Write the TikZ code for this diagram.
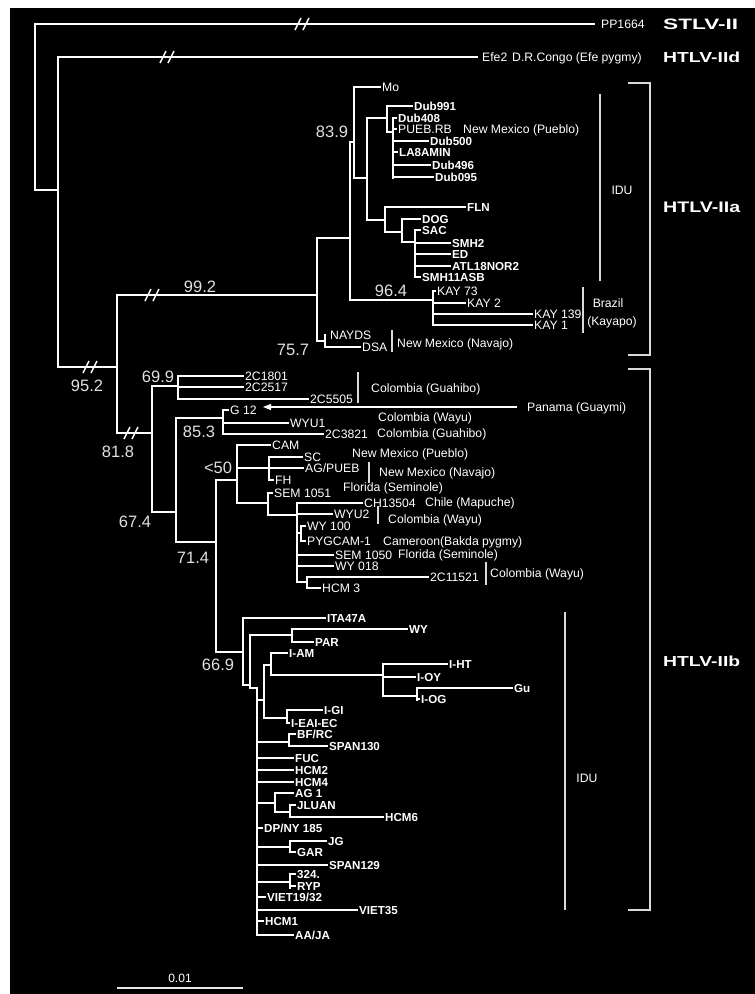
\documentclass[tikz,border=0pt]{standalone}
\usepackage{fontspec}
\setmainfont{Liberation Sans}
\usetikzlibrary{arrows.meta}
\tikzset{
 br/.style={draw=white,line width=1.6pt,line cap=rect},
 thinln/.style={draw=white!85!black,line width=1.2pt},
 lab/.style={text=white,inner sep=0pt,anchor=west,text height=8.5pt,text depth=0pt},
 rg/.style={lab,font=\fontsize{12.2}{13}\selectfont},
 bl/.style={lab,font=\fontsize{11.6}{13}\selectfont\bfseries},
 num/.style={text=white!88!black,inner sep=0pt,font=\fontsize{16.5}{17}\selectfont},
 clade/.style={text=white,inner sep=0pt,anchor=west,font=\bfseries},
}
\newcommand\tleaf[6][bl]{\draw[br] (#3,#5) -- (#4,#5); \node[#1] (#2) at ([xshift=2pt]#4,#5) {#6};}
\newcommand\brkmark[2]{\draw[white,line width=1.4pt] (#1-7,#2+6) -- (#1-1,#2-6) (#1+1,#2+6) -- (#1+7,#2-6);}
\begin{document}
\begin{tikzpicture}[x=1pt,y=-1pt]
\useasboundingbox (0,0) rectangle (755,994);
\fill[white] (0,0) rectangle (755,994);
\fill[black] (10,8) rectangle (755,994);

% ---------- top outgroups ----------
\draw[br] (594,24) -- (35,24) -- (35,190) -- (58,190);
\draw[br] (477,57) -- (58,57) -- (58,367) -- (117,367);
\brkmark{302}{24}
\brkmark{167}{57}
\node[rg] (pp) at (601,24) {PP1664};
\node[clade] (stlv) at (663,24) {\resizebox{75pt}{10.5pt}{STLV-II}};
\node[rg] (efe) at (482,57) {Efe2};
\node[rg] (drc) at (512,57) {D.R.Congo (Efe pygmy)};
\node[clade] (iid) at (663,57) {\resizebox{77pt}{10.5pt}{HTLV-IId}};

% ---------- deep nodes ----------
\draw[br] (117,295) -- (117,433);
\draw[br] (117,295) -- (317,295);
\draw[br] (117,433) -- (152,433);
\brkmark{90}{367}
\brkmark{152}{295}
\brkmark{131}{433}
\node[num] (b952) at (87,386) {95.2};
\node[num] (b992) at (200,287) {99.2};
\node[num] (b818) at (118,452) {81.8};

% ---------- HTLV-IIa ----------
\draw[br] (317,238) -- (317,341) -- (325,341);
\draw[br] (317,238) -- (350,238);
\draw[br] (325,335) -- (325,347);
\node[rg] (nay) at (330,335) {NAYDS};
\tleaf[rg]{dsa}{325}{360}{347}{DSA};
\draw[thinln] (392,330) -- (392,352);
\node[rg] (nmnav1) at (397,343) {New Mexico (Navajo)};
\node[num] (b757) at (293,350) {75.7};

\draw[br] (350,142) -- (350,300) -- (433,300);
\draw[br] (350,142) -- (354,142);
\node[num] (b839) at (332,132) {83.9};
\draw[br] (354,87) -- (354,178) -- (367,178);
\tleaf[rg]{mo}{354}{380}{87}{Mo};
\draw[br] (367,118) -- (367,220) -- (385,220);
\draw[br] (367,118) -- (387,118);
\draw[br] (387,106) -- (387,132) -- (393,132);
\tleaf{dub991}{387}{412}{106}{Dub991};
\draw[br] (393,118) -- (393,178);
\tleaf{dub408}{393}{396}{118}{Dub408};
\tleaf[rg]{pueb}{393}{396}{129}{PUEB.RB};
\node[rg] (nmpue1) at (463,129) {New Mexico (Pueblo)};
\tleaf{dub500}{393}{428}{141}{Dub500};
\tleaf{la8}{393}{397}{152}{LA8AMIN};
\tleaf{dub496}{393}{430}{165}{Dub496};
\tleaf{dub095}{393}{433}{177}{Dub095};

\draw[br] (385,207) -- (385,232) -- (402,232);
\tleaf{fln}{385}{465}{207}{FLN};
\draw[br] (402,219) -- (402,242) -- (415,242);
\tleaf{dog}{402}{420}{219}{DOG};
\draw[br] (415,230) -- (415,277);
\tleaf{sac}{415}{420}{230}{SAC};
\tleaf{smh2}{415}{450}{243}{SMH2};
\tleaf{ed}{415}{450}{254}{ED};
\tleaf{atl}{415}{450}{266}{ATL18NOR2};
\tleaf{smh11}{415}{420}{277}{SMH11ASB};

\node[num] (b964) at (391,291) {96.4};
\draw[br] (433,291) -- (433,325);
\tleaf[rg]{kay73}{433}{435}{291}{KAY 73};
\tleaf[rg]{kay2}{433}{465}{303}{KAY 2};
\tleaf[rg]{kay139}{433}{532}{314}{KAY 139};
\tleaf[rg]{kay1}{433}{532}{325}{KAY 1};

\draw[thinln] (628,83) -- (650,83) -- (650,355) -- (628,355);
\draw[thinln] (600,94) -- (600,281);
\node[rg,anchor=center] (idu1) at (622,190) {IDU};
\draw[thinln] (583,287) -- (583,333);
\node[rg,anchor=center] (braz) at (608,303) {Brazil};
\node[rg,anchor=center] (kayap) at (612,321) {(Kayapo)};
\node[clade] (iia) at (663,207) {\resizebox{77pt}{10.5pt}{HTLV-IIa}};

% ---------- HTLV-IIb ----------
\draw[br] (152,386) -- (152,512) -- (176,512);
\draw[br] (152,386) -- (178,386);
\node[num] (b699) at (158,377) {69.9};
\draw[br] (178,376) -- (178,399);
\tleaf[rg]{c1801}{178}{243}{376}{2C1801};
\tleaf[rg]{c2517}{178}{243}{387}{2C2517};
\tleaf[rg]{c5505}{178}{308}{399}{2C5505};
\draw[thinln] (358,372) -- (358,403);
\node[rg] (colg1) at (371,388) {Colombia (Guahibo)};

\node[num] (b674) at (135,522) {67.4};
\draw[br] (176,418) -- (176,542) -- (216,542);
\draw[br] (176,418) -- (223,418);
\draw[br] (223,410) -- (223,434);
\tleaf[rg]{g12}{223}{228}{410}{G 12};
\coordinate (arrs) at (517,407);
\coordinate (arre) at (263,407);
\draw[white,line width=1.2pt,-{Triangle[length=8pt,width=6pt]}] (arrs) -- (arre);
\node[rg] (pan) at (527,407) {Panama (Guaymi)};
\tleaf[rg]{wyu1}{223}{288}{423}{WYU1};
\tleaf[rg]{c3821}{223}{323}{434}{2C3821};
\node[num] (b853) at (199,432) {85.3};
\node[rg] (colw1) at (378,417) {Colombia (Wayu)};
\node[rg] (colg2) at (377,433) {Colombia (Guahibo)};

\node[num] (b714) at (193,558) {71.4};
\draw[br] (216,480) -- (216,652) -- (243,652);
\draw[br] (216,480) -- (237,480);
\node[num] (b50) at (218,468) {<50};
\draw[br] (237,445) -- (237,503) -- (268,503);
\tleaf[rg]{cam}{237}{270}{445}{CAM};
\draw[br] (237,468) -- (269,468);
\draw[br] (269,457) -- (269,480);
\tleaf[rg]{sc}{269}{302}{457}{SC};
\tleaf[rg]{agp}{269}{303}{468}{AG/PUEB};
\tleaf[rg]{fh}{269}{273}{480}{FH};
\node[rg] (nmpue2) at (352,453) {New Mexico (Pueblo)};
\draw[thinln] (369,462) -- (369,483);
\node[rg] (nmnav2) at (379,472) {New Mexico (Navajo)};
\node[rg] (flsem1) at (343,487) {Florida (Seminole)};

\draw[br] (268,493) -- (268,515) -- (297,515);
\tleaf[rg]{sem1051}{268}{272}{493}{SEM 1051};
\draw[br] (297,503) -- (297,582) -- (307,582);
\tleaf[rg]{ch}{297}{362}{503}{CH13504};
\node[rg] (chile) at (425,502) {Chile (Mapuche)};
\tleaf[rg]{wyu2}{297}{332}{514}{WYU2};
\draw[thinln] (378,506) -- (378,524);
\node[rg] (colw2) at (388,519) {Colombia (Wayu)};
\draw[br] (297,533) -- (301,533);
\draw[br] (301,526) -- (301,541);
\tleaf[rg]{wy100}{301}{305}{526}{WY 100};
\tleaf[rg]{pyg}{301}{305}{541}{PYGCAM-1};
\node[rg] (cam2) at (383,541) {Cameroon(Bakda pygmy)};
\tleaf[rg]{sem1050}{297}{333}{555}{SEM 1050};
\node[rg] (flsem2) at (398,554) {Florida (Seminole)};
\tleaf[rg]{wy018}{297}{333}{566}{WY 018};
\draw[br] (307,577) -- (307,587);
\tleaf[rg]{c11521}{307}{428}{577}{2C11521};
\tleaf[rg]{hcm3}{307}{320}{588}{HCM 3};
\draw[thinln] (486,562) -- (486,585);
\node[rg] (colw3) at (490,573) {Colombia (Wayu)};

% 66.9 IDU clade
\node[num] (b669) at (218,665) {66.9};
\draw[br] (243,618) -- (243,685) -- (250,685);
\tleaf{ita}{243}{325}{618}{ITA47A};
\draw[br] (250,635) -- (250,688) -- (257,688);
\draw[br] (250,635) -- (292,635);
\draw[br] (292,629) -- (292,642);
\tleaf{wy}{292}{407}{629}{WY};
\tleaf{par}{292}{313}{642}{PAR};
\draw[br] (257,688) -- (257,935);
\draw[br] (257,700) -- (264,700);
\draw[br] (264,665) -- (264,718) -- (287,718);
\draw[br] (264,665) -- (271,665);
\draw[br] (271,653) -- (271,675) -- (383,675);
\tleaf{iam}{271}{287}{653}{I-AM};
\draw[br] (383,664) -- (383,696) -- (417,696);
\tleaf{iht}{383}{447}{664}{I-HT};
\tleaf{ioy}{383}{415}{677}{I-OY};
\draw[br] (417,688) -- (417,700);
\tleaf{gu}{417}{512}{688}{Gu};
\tleaf{iog}{417}{419}{699}{I-OG};
\draw[br] (287,710) -- (287,723);
\tleaf{igi}{287}{322}{710}{I-GI};
\tleaf{ieai}{287}{289}{723}{I-EAI-EC};
\draw[br] (257,742) -- (289,742);
\draw[br] (289,734) -- (289,746);
\tleaf{bfrc}{289}{295}{734}{BF/RC};
\tleaf{span130}{289}{327}{746}{SPAN130};
\tleaf{fuc}{257}{293}{758}{FUC};
\tleaf{hcm2}{257}{293}{770}{HCM2};
\tleaf{hcm4}{257}{293}{782}{HCM4};
\draw[br] (257,803) -- (275,803);
\draw[br] (275,793) -- (275,812) -- (290,812);
\tleaf{ag1}{275}{293}{793}{AG 1};
\draw[br] (290,805) -- (290,817);
\tleaf{jluan}{290}{295}{805}{JLUAN};
\tleaf{hcm6}{290}{383}{817}{HCM6};
\tleaf{dpny}{257}{262}{828}{DP/NY 185};
\draw[br] (257,847) -- (290,847);
\draw[br] (290,841) -- (290,852);
\tleaf{jg}{290}{326}{841}{JG};
\tleaf{gar}{290}{295}{852}{GAR};
\tleaf{span129}{257}{327}{865}{SPAN129};
\draw[br] (257,882) -- (290,882);
\draw[br] (290,874) -- (290,888);
\tleaf{n324}{290}{295}{874}{324.};
\tleaf{ryp}{290}{295}{886}{RYP};
\tleaf{viet1932}{257}{265}{897}{VIET19/32};
\tleaf{viet35}{257}{357}{910}{VIET35};
\tleaf{hcm1}{257}{263}{921}{HCM1};
\tleaf{aaja}{257}{293}{935}{AA/JA};

\draw[thinln] (628,369) -- (650,369) -- (650,910) -- (628,910);
\draw[thinln] (565,612) -- (565,910);
\node[rg,anchor=center] (idu2) at (587,778) {IDU};
\node[clade] (iib) at (663,661) {\resizebox{77pt}{10.5pt}{HTLV-IIb}};

% ---------- scale bar ----------
\coordinate (sba) at (117,988);
\coordinate (sbb) at (243,988);
\draw[white!90!black,line width=1.3pt] (sba) -- (sbb);
\node[text=white,inner sep=0pt,font=\fontsize{12}{12}\selectfont] (sbl) at (180,978) {0.01};
\end{tikzpicture}
\end{document}
